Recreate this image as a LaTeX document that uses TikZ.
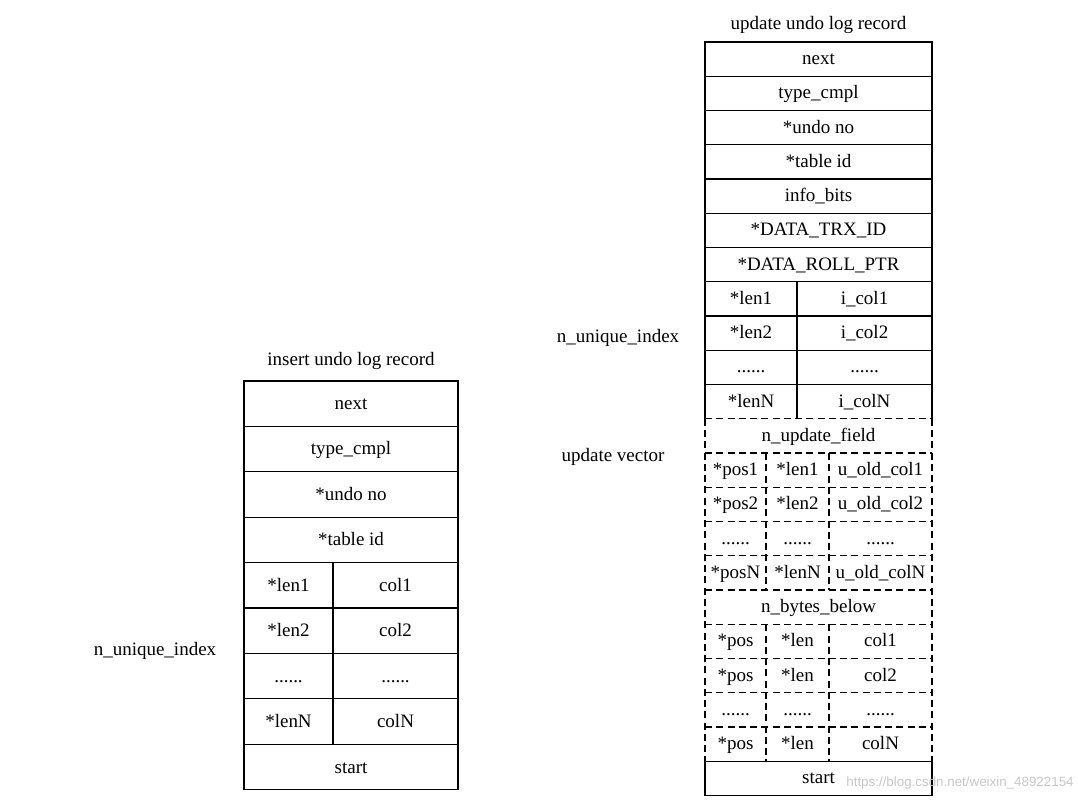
\documentclass[tikz,border=0pt]{standalone}
\usepackage{fontspec}
\setmainfont{Liberation Serif}
\setsansfont{Liberation Sans}
\usetikzlibrary{calc}

\tikzset{
	txt/.style={font=\fontsize{13.5}{16}\selectfont, inner sep=0pt, text height=9.5pt, text depth=3pt},
	solidline/.style={line width=0.9pt},
	dashline/.style={line width=0.9pt, dash pattern=on 5pt off 3pt},
}

\begin{document}
\begin{tikzpicture}[x=0.025cm,y=-0.025cm]
	\useasboundingbox (0,0) rectangle (1078,810);

	% insert undo log record
	\node[txt] (institle) at (351,361){insert undo log record};
	\draw[solidline] (244,381) rectangle (458,789.6);
	\foreach \y in {426.4,471.8,517.2,562.6,608,653.4,698.8,744.2}
		\draw[solidline] (244,\y)--(458,\y);
	\draw[solidline] (333,562.6)--(333,744.2);

	\node[txt] (insnext) at (351,404.5){next};
	\node[txt] (instype) at (351,450){type\_cmpl};
	\node[txt] (insundo) at (351,495.5){*undo no};
	\node[txt] (instable) at (351,541){*table id};
	\node[txt] (inslenA) at (288.5,586.5){*len1};
	\node[txt] (inscolA) at (395.5,586.5){col1};
	\node[txt] (inslenB) at (288.5,632){*len2};
	\node[txt] (inscolB) at (395.5,632){col2};
	\node[txt] (inslenD) at (288.5,677.5){......};
	\node[txt] (inscolD) at (395.5,677.5){......};
	\node[txt] (inslenN) at (288.5,723){*lenN};
	\node[txt] (inscolN) at (395.5,723){colN};
	\node[txt] (insstart) at (351,769){start};
	\node[txt] (insidx) at (155,651){n\_unique\_index};

	% update undo log record
	\node[txt] (updtitle) at (818.5,25){update undo log record};
	\draw[solidline] (705,418.75)--(705,42)--(932,42)--(932,418.75);
	\foreach \i in {1,...,10}
		\draw[solidline] (705,42+34.25*\i)--(932,42+34.25*\i);
	\draw[solidline] (797,281.75)--(797,418.75);
	% update vector part
	\draw[dashline] (705,418.75)--(705,761.25);
	\draw[dashline] (932,418.75)--(932,761.25);
	\foreach \i in {11,...,20}
		\draw[dashline] (705,42+34.25*\i)--(932,42+34.25*\i);
	\draw[dashline] (766,453)--(766,590);
	\draw[dashline] (829,453)--(829,590);
	\draw[dashline] (766,624.25)--(766,761.25);
	\draw[dashline] (829,624.25)--(829,761.25);
	\draw[solidline] (705,761.25) rectangle (932,795.5);

	\node[txt] (updnext) at (818.5,60){next};
	\node[txt] (updtype) at (818.5,94.3){type\_cmpl};
	\node[txt] (updundo) at (818.5,128.5){*undo no};
	\node[txt] (updtable) at (818.5,162.8){*table id};
	\node[txt] (updinfo) at (818.5,197){info\_bits};
	\node[txt] (updtrx) at (818.5,231.3){*DATA\_TRX\_ID};
	\node[txt] (updroll) at (818.5,265.5){*DATA\_ROLL\_PTR};
	\node[txt] (updlenA) at (751,299.8){*len1};
	\node[txt] (updcolA) at (864.5,299.8){i\_col1};
	\node[txt] (updlenB) at (751,334){*len2};
	\node[txt] (updcolB) at (864.5,334){i\_col2};
	\node[txt] (updlenD) at (751,368.3){......};
	\node[txt] (updcolD) at (864.5,368.3){......};
	\node[txt] (updlenN) at (751,402.5){*lenN};
	\node[txt] (updcolN) at (864.5,402.5){i\_colN};

	\node[txt] (updfield) at (818.5,436.8){n\_update\_field};
	\node[txt] (vecposA) at (735.5,471){*pos1};
	\node[txt] (veclenA) at (797.5,471){*len1};
	\node[txt] (vecoldA) at (880.5,471){u\_old\_col1};
	\node[txt] (vecposB) at (735.5,505.3){*pos2};
	\node[txt] (veclenB) at (797.5,505.3){*len2};
	\node[txt] (vecoldB) at (880.5,505.3){u\_old\_col2};
	\node[txt] (vecposD) at (735.5,539.5){......};
	\node[txt] (veclenD) at (797.5,539.5){......};
	\node[txt] (vecoldD) at (880.5,539.5){......};
	\node[txt] (vecposN) at (735.5,573.8){*posN};
	\node[txt] (veclenN) at (797.5,573.8){*lenN};
	\node[txt] (vecoldN) at (880.5,573.8){u\_old\_colN};

	\node[txt] (updbytes) at (818.5,608){n\_bytes\_below};
	\node[txt] (belposA) at (735.5,642.3){*pos};
	\node[txt] (bellenA) at (797.5,642.3){*len};
	\node[txt] (belcolA) at (880.5,642.3){col1};
	\node[txt] (belposB) at (735.5,676.5){*pos};
	\node[txt] (bellenB) at (797.5,676.5){*len};
	\node[txt] (belcolB) at (880.5,676.5){col2};
	\node[txt] (belposD) at (735.5,710.8){......};
	\node[txt] (bellenD) at (797.5,710.8){......};
	\node[txt] (belcolD) at (880.5,710.8){......};
	\node[txt] (belposN) at (735.5,745){*pos};
	\node[txt] (bellenN) at (797.5,745){*len};
	\node[txt] (belcolN) at (880.5,745){colN};
	\node[txt] (updstart) at (818.5,779.3){start};

	\node[txt] (updidx) at (618,338){n\_unique\_index};
	\node[txt] (updvec) at (613,457){update vector};

	\node[font=\sffamily\fontsize{9.5}{11}\selectfont, text=black!22, inner sep=0pt] (mark) at (960,783){https://blog.csdn.net/weixin\_48922154};

\end{tikzpicture}
\end{document}
